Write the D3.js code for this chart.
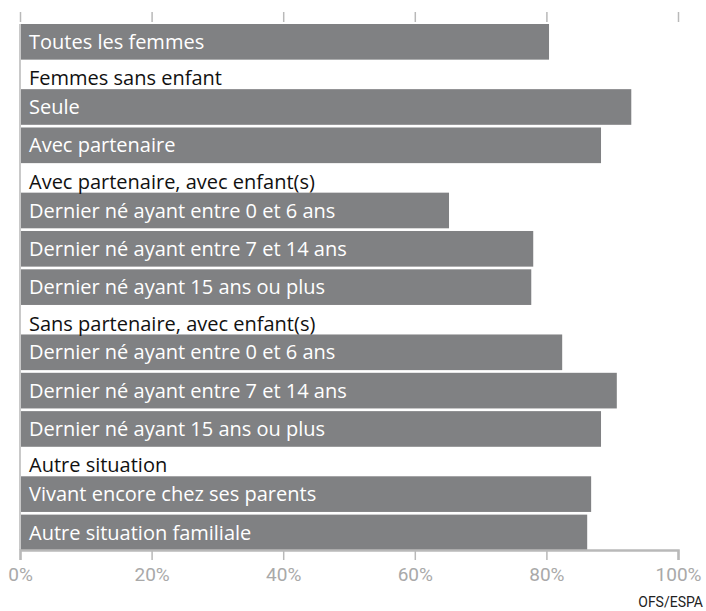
<!DOCTYPE html>
<html lang="fr">
<head>
<meta charset="utf-8">
<script src="https://cdn.jsdelivr.net/npm/d3@7"></script>
<style>
  html, body { margin: 0; padding: 0; background: #fff; }
  svg { display: block; font-family: Roboto, "Noto Sans", sans-serif; }
</style>
</head>
<body>
<svg id="chart" width="706" height="611"></svg>
<script>
// Taux d'activité des femmes selon la situation familiale (en %)
const categories = [
  "Toutes les femmes",
  "Seule",
  "Avec partenaire",
  "Dernier né ayant entre 0 et 6 ans",
  "Dernier né ayant entre 7 et 14 ans",
  "Dernier né ayant 15 ans ou plus",
  "Dernier né ayant entre 0 et 6 ans",
  "Dernier né ayant entre 7 et 14 ans",
  "Dernier né ayant 15 ans ou plus",
  "Vivant encore chez ses parents",
  "Autre situation familiale"
];
const groups = [
  null,
  "Femmes sans enfant",
  "Femmes sans enfant",
  "Avec partenaire, avec enfant(s)",
  "Avec partenaire, avec enfant(s)",
  "Avec partenaire, avec enfant(s)",
  "Sans partenaire, avec enfant(s)",
  "Sans partenaire, avec enfant(s)",
  "Sans partenaire, avec enfant(s)",
  "Autre situation",
  "Autre situation"
];
const shares = [80.4, 92.9, 88.3, 65.2, 78.0, 77.7, 82.4, 90.7, 88.3, 86.8, 86.2];
const tickValues = [0, 20, 40, 60, 80, 100];
const sourceNote = "OFS/ESPA";

const svg = d3.select("#chart");
const barColor = "#808183";
const axisColor = "#b9b9b9";
const labelFont = "'Open Sans', Roboto, sans-serif";

// Row layout: a bar row counts 1 unit, a group heading 0.7 unit
const BAR_UNITS = 1, HEAD_UNITS = 0.7;
const rows = [];
let u = 0, prevGroup = null;
categories.forEach((label, i) => {
  if (groups[i] && groups[i] !== prevGroup) {
    rows.push({ kind: "head", label: groups[i], u });
    u += HEAD_UNITS;
  }
  prevGroup = groups[i];
  rows.push({ kind: "bar", label, value: shares[i], u });
  u += BAR_UNITS;
});
const totalUnits = u;

const x = d3.scaleLinear().domain([0, 100]).range([20, 678]);
const y = d3.scaleLinear().domain([0, totalUnits]).range([24, 24 + totalUnits * 38.33]);
const barH = y(0.93) - y(0);
const axisY = 550;

// top tick marks
svg.append("g")
  .attr("transform", "translate(0,22)")
  .call(d3.axisTop(x).tickValues(tickValues).tickSize(10).tickFormat(""))
  .call(g => g.select(".domain").remove())
  .call(g => g.selectAll(".tick line").attr("stroke", axisColor).attr("stroke-width", 1.5));

// left baseline
svg.append("line")
  .attr("x1", x(0)).attr("x2", x(0))
  .attr("y1", 24).attr("y2", axisY)
  .attr("stroke", "#c9c9c9").attr("stroke-width", 2);

const bars = rows.filter(r => r.kind === "bar");
const heads = rows.filter(r => r.kind === "head");

svg.append("g").selectAll("rect").data(bars).join("rect")
  .attr("x", x(0) + 1)
  .attr("y", d => y(d.u))
  .attr("width", d => x(d.value) - x(0) - 1)
  .attr("height", barH)
  .attr("fill", barColor);

svg.append("g").selectAll("text").data(bars).join("text")
  .attr("x", 29)
  .attr("y", d => y(d.u) + 25)
  .attr("fill", "#fff")
  .attr("font-family", labelFont)
  .attr("font-size", 20)
  .text(d => d.label);

svg.append("g").selectAll("text").data(heads).join("text")
  .attr("x", 29)
  .attr("y", d => y(d.u) + 23)
  .attr("fill", "#111")
  .attr("font-family", labelFont)
  .attr("font-size", 20)
  .text(d => d.label);

// bottom axis
svg.append("g")
  .attr("transform", `translate(0,${axisY})`)
  .call(d3.axisBottom(x).tickValues(tickValues).tickSize(10).tickPadding(8).tickFormat(d => d + "%"))
  .call(g => g.select(".domain").attr("stroke", axisColor).attr("stroke-width", 2.5))
  .call(g => g.selectAll(".tick line").attr("stroke", axisColor).attr("stroke-width", 1.5))
  .call(g => g.selectAll(".tick text")
    .attr("fill", "#a9a9a9")
    .attr("font-size", 19)
    .attr("font-family", "Roboto, sans-serif"));

svg.append("text")
  .attr("x", 703).attr("y", 607)
  .attr("text-anchor", "end")
  .attr("fill", "#222")
  .attr("font-size", 14)
  .text(sourceNote);
</script>
</body>
</html>
